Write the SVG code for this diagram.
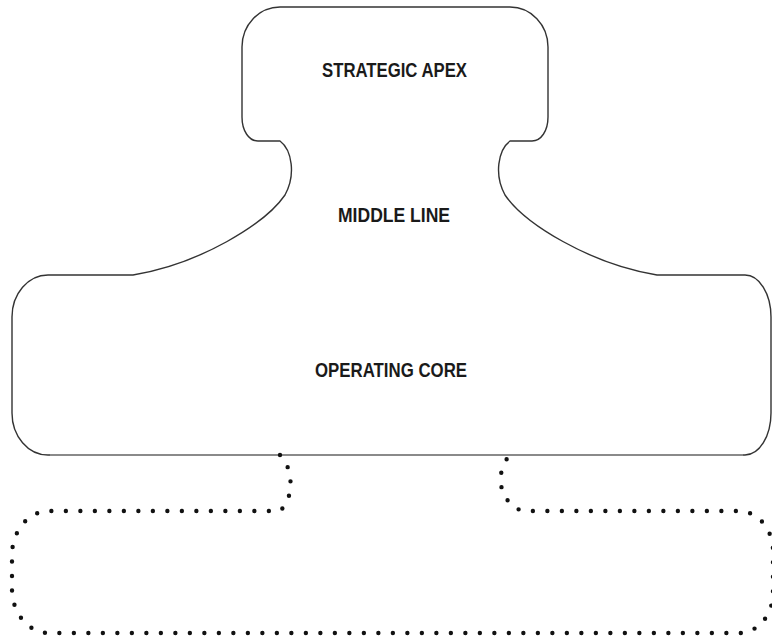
<svg xmlns="http://www.w3.org/2000/svg" width="772" height="639" viewBox="0 0 772 639">
<style>
.outline{fill:none;stroke:#333;stroke-width:1.4;stroke-linejoin:round}
.base{fill:none;stroke:#8a8a8a;stroke-width:2.2}
.dots{fill:none;stroke:#111;stroke-width:4.4;stroke-linecap:round;stroke-dasharray:0 14.5}
.lbl{font-family:"Liberation Sans",Arial,sans-serif;font-weight:bold;font-size:20.5px;fill:#1a1a1a;text-anchor:middle}
</style>
<rect width="772" height="639" fill="#fff"/>
<g id="organisation-outline">
<path class="outline" d="M280,7 L510,7 A38 40 0 0 1 548,47 L548,117 C548,131 541,141 532,141 L510,141 C498,150 494,175 505,195 C525,224 590,264 657,275 L745,275 A26 42 0 0 1 771,317 L771,413 A26 42 0 0 1 745,455 L48,455 A36 42 0 0 1 12,413 L12,317 A36 42 0 0 1 48,275 L133,275 C200,264 265,224 285,195 C296,175 292,150 280,141 L258,141 C249,141 242,131 242,117 L242,47 A38 40 0 0 1 280,7 Z"/>
<line class="base" x1="50" y1="455" x2="743" y2="455"/>
</g>
<g id="support-base">
<path class="dots" d="M280,455 C292,466 296,496 280,511 L49,511 A37 44 0 0 0 12,555 L12,589 A37 44 0 0 0 49,633 L739,633 A34 40 0 0 0 773,593 L773,551 A34 40 0 0 0 739,511 L522,511 C496,500 496,470 510,455"/>
</g>
<g id="strategic-apex">
<text class="lbl" x="394.5" y="77" textLength="145" lengthAdjust="spacingAndGlyphs">STRATEGIC APEX</text>
</g>
<g id="middle-line">
<text class="lbl" x="394" y="222" textLength="112" lengthAdjust="spacingAndGlyphs">MIDDLE LINE</text>
</g>
<g id="operating-core">
<text class="lbl" x="391" y="377" textLength="152" lengthAdjust="spacingAndGlyphs">OPERATING CORE</text>
</g>
</svg>
